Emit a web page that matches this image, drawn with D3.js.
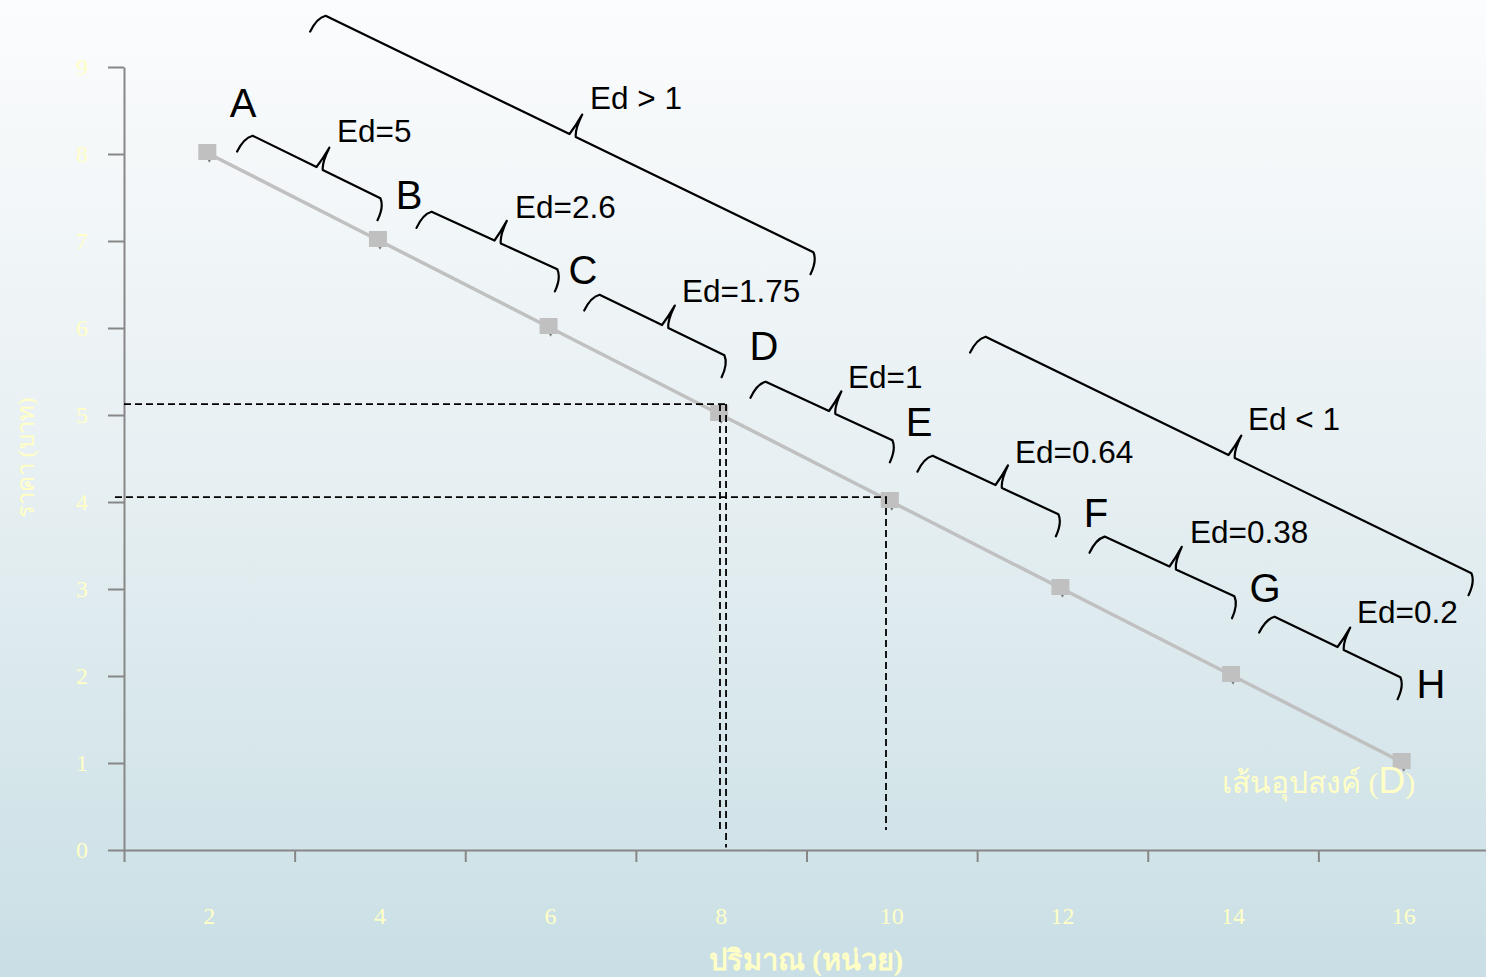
<!DOCTYPE html>
<html><head><meta charset="utf-8">
<script src="https://cdn.jsdelivr.net/npm/d3@7"></script>
<style>html,body{margin:0;padding:0;overflow:hidden;background:#fff}svg{display:block}</style>
</head><body><svg id="c" width="1486" height="977"></svg>
<script>
// ---- data ----
const quantities = [2, 4, 6, 8, 10, 12, 14, 16];
const prices = [8, 7, 6, 5, 4, 3, 2, 1];
const pointLabels = ["A", "B", "C", "D", "E", "F", "G", "H"];
const pointLabelQ = [2.395, 4.341, 6.380, 8.502, 10.319, 12.394, 14.375, 16.320];
const pointLabelP = [8.586, 7.529, 6.667, 5.793, 4.920, 3.874, 3.011, 1.908];
const yTickValues = [0, 1, 2, 3, 4, 5, 6, 7, 8, 9];
const xTickMarks = [1, 3, 5, 7, 9, 11, 13, 15];
const xTickLabels = ["2", "4", "6", "8", "10", "12", "14", "16"];
const braceTexts = ["Ed=5", "Ed=2.6", "Ed=1.75", "Ed=1", "Ed=0.64", "Ed=0.38", "Ed=0.2", "Ed > 1", "Ed < 1"];
const braceStartQ = [2.465, 4.563, 6.533, 8.479, 10.436, 12.452, 14.445, 3.321, 11.057];
const braceStartP = [8.230, 7.356, 6.402, 5.402, 4.552, 3.621, 2.701, 9.609, 5.920];
const braceEndQ = [4.048, 6.122, 8.080, 10.049, 11.995, 14.058, 16.004, 9.123, 16.836];
const braceEndP = [7.471, 6.655, 5.667, 4.690, 3.839, 2.897, 1.966, 6.851, 3.161];
const braceTextQ = [3.497, 5.583, 7.541, 9.487, 11.444, 13.495, 15.453, 6.462, 14.175];
const braceTextP = [8.264, 7.391, 6.425, 5.437, 4.575, 3.655, 2.736, 8.644, 4.954];
const guideX1 = [1.0, 0.894, 7.986, 8.057, 9.932];
const guideY1 = [5.126, 4.057, 5.126, 5.126, 4.057];
const guideX2 = [8.080, 9.944, 7.986, 8.057, 9.932];
const guideY2 = [5.126, 4.057, 0.207, 0.03, 0.23];
const yTitle = "ราคา (บาท)";
const xTitle = "ปริมาณ (หน่วย)";
const curveName = "เส้นอุปสงค์ (";

// ---- setup ----
const W = 1486, H = 977;
const svg = d3.select("#c");
const defs = svg.append("defs");
const grad = defs.append("linearGradient").attr("id", "bg").attr("x1", 0).attr("y1", 0).attr("x2", 0).attr("y2", 1);
grad.append("stop").attr("offset", "0%").attr("stop-color", "#fbfcfd");
grad.append("stop").attr("offset", "50%").attr("stop-color", "#e6eff2");
grad.append("stop").attr("offset", "100%").attr("stop-color", "#c9dfe5");
svg.append("rect").attr("width", W).attr("height", H).attr("fill", "url(#bg)");

const x = d3.scaleLinear().domain([1, 17]).range([124, 1489]);
const y = d3.scaleLinear().domain([0, 9]).range([850, 67]);

const axisColor = "#878787";
const labelColor = "#ffffc6";
const serif = "'Liberation Serif','Times New Roman',serif";
const sans = "'Liberation Sans',Arial,sans-serif";

// Y axis
const yAxis = svg.append("g").attr("transform", `translate(${x(1)},0)`)
  .call(d3.axisLeft(y).tickValues(yTickValues).tickSize(16).tickSizeOuter(0).tickPadding(20).tickFormat(d3.format("d")));
yAxis.select(".domain").attr("stroke", axisColor).attr("stroke-width", 2);
yAxis.selectAll(".tick line").attr("stroke", axisColor).attr("stroke-width", 2);
yAxis.selectAll(".tick text").attr("fill", labelColor).attr("font-family", serif).attr("font-size", 24);

// X axis
const xAxis = svg.append("g").attr("transform", `translate(0,${y(0)})`)
  .call(d3.axisBottom(x).tickValues(xTickMarks).tickSize(12).tickSizeOuter(0).tickFormat(""));
xAxis.select(".domain").attr("stroke", axisColor).attr("stroke-width", 2);
xAxis.selectAll(".tick line").attr("stroke", axisColor).attr("stroke-width", 2);
svg.append("g").selectAll("text").data(quantities).join("text")
  .attr("x", d => x(d)).attr("y", 916).attr("dy", "0.35em")
  .attr("text-anchor", "middle").attr("fill", labelColor)
  .attr("font-family", serif).attr("font-size", 24)
  .text((d, i) => xTickLabels[i]);

// axis titles
svg.append("text").attr("transform", `translate(26,458) rotate(-90)`)
  .attr("text-anchor", "middle").attr("dy", "0.35em").attr("fill", labelColor)
  .attr("font-family", serif).attr("font-size", 24).text(yTitle);
svg.append("text").attr("x", 806).attr("y", 960).attr("dy", "0.35em")
  .attr("text-anchor", "middle").attr("fill", labelColor)
  .attr("font-family", serif).attr("font-weight", "bold").attr("font-size", 29).text(xTitle);

// demand line
const pts = quantities.map((q, i) => [x(q), y(prices[i])]);
svg.append("path").attr("d", d3.line()(pts)).attr("fill", "none")
  .attr("stroke", "#c0c0c0").attr("stroke-width", 3.5);
// markers
const mk = svg.append("g");
mk.selectAll("path").data(pts).join("path")
  .attr("d", d3.symbol().type(d3.symbolDiamond).size(90))
  .attr("transform", d => `translate(${d[0]},${d[1]})`).attr("fill", "#7a7a7a");
mk.selectAll("rect").data(pts).join("rect")
  .attr("x", d => d[0] - 11).attr("y", d => d[1] - 10)
  .attr("width", 18).attr("height", 16).attr("fill", "#c0c0c0");

// curve label
const cl = svg.append("text").attr("x", x(13.87)).attr("y", y(0.655))
  .attr("fill", labelColor).attr("font-family", serif).attr("font-size", 30);
cl.append("tspan").text(curveName);
cl.append("tspan").attr("font-family", sans).attr("font-size", 37).text("D");
cl.append("tspan").text(")");

// dashed guides
svg.append("g").selectAll("line").data(guideX1).join("line")
  .attr("x1", (d, i) => x(guideX1[i])).attr("y1", (d, i) => y(guideY1[i]))
  .attr("x2", (d, i) => x(guideX2[i])).attr("y2", (d, i) => y(guideY2[i]))
  .attr("stroke", "#000").attr("stroke-width", 1.8).attr("stroke-dasharray", "7,4");

// braces
function bracePath(c1, c2) {
  const dx = c2[0] - c1[0], dy = c2[1] - c1[1], L = Math.hypot(dx, dy);
  const u = [dx / L, dy / L], n = [u[1], -u[0]];
  const P = (b, a, k) => [b[0] + u[0] * a + n[0] * k, b[1] + u[1] * a + n[1] * k];
  const mid = P(c1, L / 2, 0);
  const s = p => p[0].toFixed(1) + "," + p[1].toFixed(1);
  const h1 = P(c1, -3, -21), h2 = P(c2, 3, -21);
  return "M" + s(h1) +
    "Q" + s(P(c1, -3, -6)) + " " + s(P(c1, 4, 0)) +
    "L" + s(mid) +
    "Q" + s(P(mid, 2, 10)) + " " + s(P(mid, 3, 23)) +
    "M" + s(P(mid, 3, 23)) +
    "Q" + s(P(mid, 3, 6)) + " " + s(P(mid, 7, 0)) +
    "L" + s(P(c2, -4, 0)) +
    "Q" + s(P(c2, 3, -6)) + " " + s(h2);
}
const br = svg.append("g");
br.selectAll("path").data(braceTexts).join("path")
  .attr("d", (d, i) => bracePath([x(braceStartQ[i]), y(braceStartP[i])], [x(braceEndQ[i]), y(braceEndP[i])]))
  .attr("fill", "none").attr("stroke", "#000").attr("stroke-width", 2.2)
  .attr("stroke-linejoin", "round").attr("stroke-linecap", "round");
br.selectAll("text").data(braceTexts).join("text")
  .attr("x", (d, i) => x(braceTextQ[i])).attr("y", (d, i) => y(braceTextP[i])).attr("dy", "0.36em")
  .attr("font-family", sans).attr("font-size", 31.5).attr("fill", "#000")
  .text(d => d);

// point letters
svg.append("g").selectAll("text").data(pointLabels).join("text")
  .attr("x", (d, i) => x(pointLabelQ[i])).attr("y", (d, i) => y(pointLabelP[i])).attr("dy", "0.36em")
  .attr("text-anchor", "middle").attr("font-family", sans).attr("font-size", 40).attr("fill", "#000")
  .text(d => d);
</script></body></html>
